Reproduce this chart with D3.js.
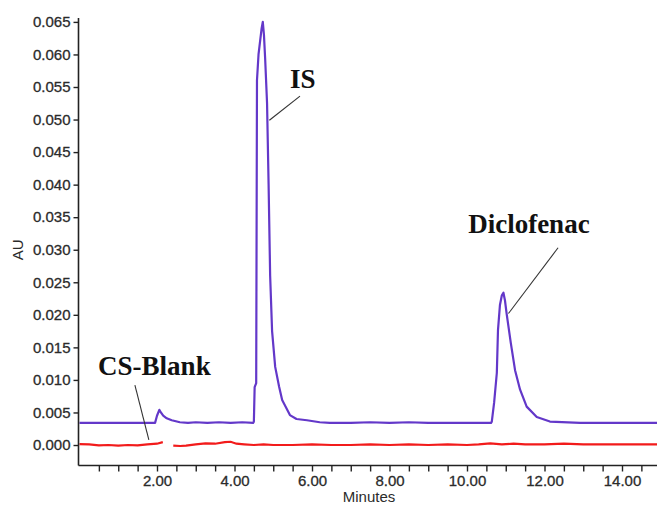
<!DOCTYPE html>
<html>
<head>
<meta charset="utf-8">
<script src="https://cdn.jsdelivr.net/npm/d3@7"></script>
<style>
  html, body { margin: 0; padding: 0; background: #fff; }
  svg { display: block; }
</style>
</head>
<body>
<svg id="chart" width="657" height="506"></svg>
<script>
// ---- Data ----
// Sample trace (purple): time (min) and absorbance (AU)
const sampleTime = [0, 0.5, 1.0, 1.5, 1.95, 2.0, 2.06, 2.1, 2.16, 2.25, 2.38, 2.59, 2.8, 3.0, 3.3, 3.6, 3.9, 4.2, 4.48,
  4.50, 4.52, 4.56, 4.58, 4.62, 4.70, 4.73, 4.76, 4.79, 4.84, 4.88, 4.92, 4.97, 5.05, 5.15, 5.23, 5.43, 5.6, 5.87, 6.2, 6.46,
  7.0, 7.5, 8.0, 8.5, 9.0, 9.5, 10.0, 10.4, 10.62,
  10.64, 10.70, 10.77, 10.80, 10.85, 10.90, 10.94, 10.98, 11.02, 11.13, 11.24, 11.37, 11.54, 11.80, 12.14, 12.92, 13.5, 14.0, 14.5, 15.0];
const sampleAU = [0.0034, 0.0034, 0.0034, 0.0034, 0.0034, 0.0045, 0.0054, 0.0050, 0.0045, 0.0041, 0.0038, 0.0035, 0.0034, 0.0035, 0.0034, 0.0035, 0.0034, 0.0035, 0.0034,
  0.0036, 0.0089, 0.0095, 0.0560, 0.0600, 0.0640, 0.0650, 0.0630, 0.0595, 0.0525, 0.0400, 0.0260, 0.0175, 0.0120, 0.0090, 0.0069, 0.0046, 0.0040, 0.0038, 0.0035, 0.0034,
  0.0034, 0.0035, 0.0034, 0.0035, 0.0034, 0.0034, 0.0034, 0.0034, 0.0034,
  0.0036, 0.0065, 0.0111, 0.0177, 0.0215, 0.0230, 0.0234, 0.0222, 0.0203, 0.0157, 0.0115, 0.0085, 0.0059, 0.0043, 0.0036, 0.0034, 0.0034, 0.0034, 0.0034, 0.0034];

// Blank trace (red): time (min) and absorbance (AU); null = gap in trace
const blankTime = [0, 0.25, 0.5, 0.75, 1.0, 1.25, 1.5, 1.75, 2.0, 2.15, 2.25, 2.42, 2.6, 2.75, 3.0, 3.25, 3.5, 3.75, 3.9, 4.05, 4.25, 4.5, 4.75,
  5.0, 5.5, 6.0, 6.5, 7.0, 7.5, 8.0, 8.5, 9.0, 9.5, 10.0, 10.3, 10.6, 10.9, 11.2, 11.5, 12.0, 12.5, 13.0, 13.5, 14.0, 14.5, 15.0];
const blankAU = [0.00015, 0.0001, -0.00005, 0.0, -0.0001, 0.0, -0.00005, 0.0001, 0.0002, 0.00045, null, -0.0001, -0.00015, -0.0001, 0.0001, 0.00025, 0.0002, 0.00045, 0.0005, 0.0002, 0.0001, 0.0, 0.0001,
  0.0, 0.0, 0.0001, 0.0, 0.0, 0.0001, 0.0, 0.0001, 0.0, 0.0001, 0.0, 0.0001, 0.00025, 0.0001, 0.0002, 0.0001, 0.0001, 0.0002, 0.0001, 0.0001, 0.0001, 0.0001, 0.0001];

// Axis ticks
const yTicks = [0, 0.005, 0.010, 0.015, 0.020, 0.025, 0.030, 0.035, 0.040, 0.045, 0.050, 0.055, 0.060, 0.065];
const xLabelTicks = [2, 4, 6, 8, 10, 12, 14];
const xMinorTicks = d3.range(0.5, 15.01, 0.5);

// Annotations: label text, label anchor (t, AU), leader line from/to (t, AU)
const annotLabels = ["IS", "Diclofenac", "CS-Blank"];
const annotLabelPos = [[5.43, 0.0548], [10.03, 0.0326], [0.48, 0.01075]];
const annotLineFrom = [[5.69, 0.0536], [12.35, 0.0303], [1.43, 0.0092]];
const annotLineTo = [[4.90, 0.0499], [11.07, 0.0202], [1.79, 0.0008]];

// ---- Chart ----
const svg = d3.select("#chart");
const x = d3.scaleLinear().domain([0, 15]).range([79.5, 79.5 + 38.75 * 15]);
const y = d3.scaleLinear().domain([-0.00307, 0.0656]).range([465, 18]);

svg.append("rect").attr("width", 657).attr("height", 506).attr("fill", "#fff");

svg.append("defs").append("clipPath").attr("id", "plotclip")
  .append("rect").attr("x", 79).attr("y", 10).attr("width", 600).attr("height", 455);

const purple = "#6338c9";
const red = "#f21b1b";

const line = d3.line()
  .defined(d => d[1] !== null)
  .x(d => x(d[0])).y(d => y(d[1]));

const g = svg.append("g").attr("clip-path", "url(#plotclip)");
g.append("path")
  .datum(blankTime.map((t, i) => [t, blankAU[i]]))
  .attr("fill", "none").attr("stroke", red).attr("stroke-width", 2.2)
  .attr("d", line);
g.append("path")
  .datum(sampleTime.map((t, i) => [t, sampleAU[i]]))
  .attr("fill", "none").attr("stroke", purple).attr("stroke-width", 2.2)
  .attr("stroke-linejoin", "round")
  .attr("d", line);

// Y axis
const yAxis = d3.axisLeft(y).tickValues(yTicks).tickFormat(d3.format(".3f")).tickSize(5).tickPadding(3);
const yg = svg.append("g").attr("transform", "translate(78.5,0)").call(yAxis);
// X axis
const xAxis = d3.axisBottom(x).tickValues(xMinorTicks)
  .tickFormat(d => xLabelTicks.includes(d) ? d3.format(".2f")(d) : "")
  .tickSize(6).tickPadding(4);
const xg = svg.append("g").attr("transform", "translate(0,465.5)").call(xAxis);

[yg, xg].forEach(ax => {
  ax.select(".domain").attr("stroke", "#222").attr("stroke-width", 1.6);
  ax.selectAll(".tick line").attr("stroke", "#222").attr("stroke-width", 1.4);
  ax.selectAll(".tick text").attr("fill", "#2b2b2b")
    .style("font-family", "Arial, 'Liberation Sans', sans-serif").style("font-size", "15px")
    .attr("stroke", "#2b2b2b").attr("stroke-width", 0.3);
});
yg.select(".domain").attr("d", `M0,${y(0.0656)}V465.5`);
xg.select(".domain").attr("d", `M78.5,0H657`);

// Axis titles
svg.append("text")
  .attr("transform", `translate(23,${y(0.030)}) rotate(-90)`)
  .attr("text-anchor", "middle")
  .attr("fill", "#2b2b2b")
  .style("font-family", "Arial, 'Liberation Sans', sans-serif").style("font-size", "15px")
  .text("AU");
svg.append("text")
  .attr("x", 369).attr("y", 502)
  .attr("text-anchor", "middle")
  .attr("fill", "#2b2b2b")
  .style("font-family", "Arial, 'Liberation Sans', sans-serif").style("font-size", "15px")
  .text("Minutes");

// Annotations
annotLabels.forEach((lab, i) => {
  svg.append("line")
    .attr("x1", x(annotLineFrom[i][0])).attr("y1", y(annotLineFrom[i][1]))
    .attr("x2", x(annotLineTo[i][0])).attr("y2", y(annotLineTo[i][1]))
    .attr("stroke", "#333").attr("stroke-width", 1.1);
  svg.append("text")
    .attr("x", x(annotLabelPos[i][0])).attr("y", y(annotLabelPos[i][1]))
    .attr("fill", "#111")
    .style("font-family", "'Liberation Serif', 'Times New Roman', serif")
    .style("font-size", "27px").style("font-weight", "bold")
    .text(lab);
});
</script>
</body>
</html>
